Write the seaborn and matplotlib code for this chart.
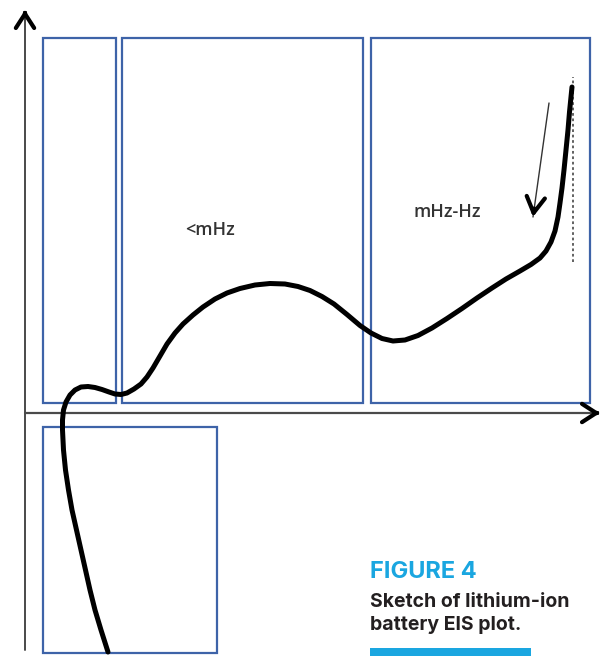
import numpy as np
import pandas as pd
import seaborn as sns
import matplotlib.pyplot as plt
from matplotlib.patches import Rectangle

sns.set_theme(style="white")
plt.rcParams["font.family"] = ["Open Sans", "DejaVu Sans"]

# Nyquist sketch in chart units (origin at the axes crossing, -Z'' upward)
z_real = [83, 76, 70, 65, 60.5, 56, 51.5, 47, 43.5, 40.5, 38.5, 37.5, 37.5, 38.5,
          41, 45, 50, 56, 63, 70, 77, 84, 90, 96, 102, 109, 116, 122, 128, 135,
          142, 150, 158, 168, 178, 190, 202, 215, 230, 245, 260, 273, 285, 297,
          309, 322, 335, 346, 357, 368, 380, 393, 407, 422, 437, 452, 467, 481,
          495, 506, 515, 521, 526, 530, 533, 535, 537, 539, 541, 543, 544.5,
          546, 547]
z_imag = [-239, -217, -197, -177, -157, -137, -117, -97, -77, -57, -37, -17, -7,
          3, 11, 18, 23, 26, 26.5, 25.5, 23.5, 21, 19, 18.5, 20, 24, 29, 36, 45,
          57, 69, 80, 89, 98, 106, 114, 120, 124.5, 128, 129.5, 129, 126.5,
          122.5, 116.5, 109, 98.5, 87.5, 80, 74.5, 72, 73, 77.5, 85, 94.5, 104.5,
          115, 125, 134, 142, 148.5, 155, 162, 171, 182, 196, 210, 225, 243,
          263, 283, 301, 316, 326]

# Frequency regions: (left, bottom, width, height) in chart units
regions = [(18, 10, 73, 365), (97, 10, 241, 365), (346, 10, 219, 365),
           (18, -240, 174, 226)]
region_labels = ["<mHz", "mHz-Hz"]
label_pos = [(185, 183), (422, 201)]

df = pd.DataFrame({"Zre": z_real, "Zim": z_imag})

fig = plt.figure(figsize=(6.05, 6.56), dpi=100)
ax = fig.add_axes([0, 0, 1, 1])
ax.set_xlim(-25, 580)
ax.set_ylim(-243, 413)
ax.axis("off")

blue = "#3E63A8"
for (x0, y0, w, h) in regions:
    ax.add_patch(Rectangle((x0, y0), w, h, fill=False, edgecolor=blue,
                           linewidth=1.6, zorder=2))

# axes with open chevron heads
axis_col = "#4a4a4a"
ax.plot([0, 0], [-237, 395], color=axis_col, lw=1.4, zorder=1)
ax.plot([0, 568], [0, 0], color=axis_col, lw=1.6, zorder=1)
head = dict(arrowstyle="->,head_length=0.85,head_width=0.55", color="black", lw=3.0,
            shrinkA=0, shrinkB=0)
ax.annotate("", xy=(0, 403), xytext=(0, 399), arrowprops=head)
ax.annotate("", xy=(575, 0), xytext=(571, 0), arrowprops=head)

sns.lineplot(data=df, x="Zre", y="Zim", sort=False, estimator=None, ax=ax,
             color="black", lw=3.6, zorder=4)
ax.lines[-1].set_solid_joinstyle("round")
ax.lines[-1].set_solid_capstyle("round")

# asymptote of the low-frequency tail
ax.plot([548, 548], [151, 336], color="#555555", lw=1.3, ls=(0, (1.5, 1.5)), zorder=3)

# direction of decreasing frequency
ax.annotate("", xy=(508, 196), xytext=(524, 310),
            arrowprops=dict(arrowstyle="-", color="#333333", lw=1.0,
                            shrinkA=0, shrinkB=0))
ax.annotate("", xy=(508, 196), xytext=(509.2, 204.5),
            arrowprops=dict(arrowstyle="->,head_length=0.95,head_width=0.55",
                            color="black", lw=3.0, shrinkA=0, shrinkB=0))

for txt, (x, y) in zip(region_labels, label_pos):
    ax.text(x, y, txt, ha="center", va="center", fontsize=13, color="#333333",
            fontweight="semibold")

# caption
cyan = "#1AA6E0"
cap_font = ["Inter", "DejaVu Sans"]
ax.text(345, -165, "FIGURE 4", fontsize=17, fontweight="bold", color=cyan,
        family=cap_font, va="baseline", ha="left")
ax.text(345, -194, "Sketch of lithium-ion", fontsize=14, fontweight="bold",
        color="#231F20", family=cap_font, va="baseline", ha="left")
ax.text(345, -217, "battery EIS plot.", fontsize=14, fontweight="bold",
        color="#231F20", family=cap_font, va="baseline", ha="left")
ax.add_patch(Rectangle((345, -243), 161, 8, color=cyan, lw=0, zorder=2))

fig.savefig("out.png", dpi=100)
